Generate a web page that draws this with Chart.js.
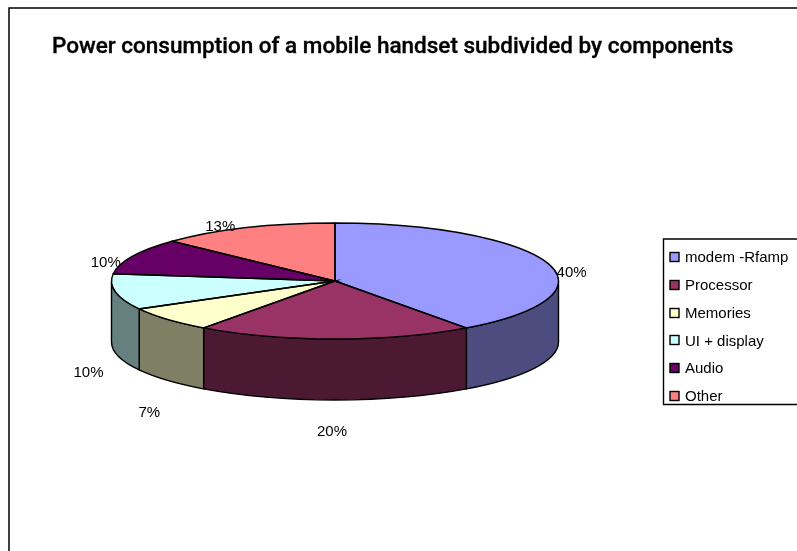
<!DOCTYPE html>
<html>
<head>
<meta charset="utf-8">
<style>
  html, body { margin: 0; padding: 0; background: #fff; overflow: hidden; }
  canvas { display: block; }
</style>
<script src="https://cdn.jsdelivr.net/npm/chart.js@4"></script>
</head>
<body>
<canvas id="chart" width="797" height="551"></canvas>
<script>
const titleText = 'Power consumption of a mobile handset subdivided by components';
const categories = ['modem -Rfamp', 'Processor', 'Memories', 'UI + display', 'Audio', 'Other'];
const shares = [40, 20, 7, 10, 10, 13];
const topColors = ['#9999ff', '#993366', '#ffffcc', '#ccffff', '#660066', '#ff8080'];
const sideColors = ['#4c4c7f', '#4c1933', '#7f7f66', '#667f7f', '#330033', '#7f4040'];

// 3D look: the pie is squashed to an ellipse and gets a wall below it
const centerY = 281;
const squash = 58 / 223.5;
const depth = 61;
// label nudges from the rim point of each slice (auto placement of the original)
const labelNudge = [[24, 10], [-3, 32], [-18, 33], [-27, 20], [-27, 7], [-26, -1]];

const pie3d = {
  id: 'pie3d',
  beforeDatasetsDraw(chart) {
    const ctx = chart.ctx;
    const arcs = chart.getDatasetMeta(0).data;
    const cx = arcs[0].x;
    const rx = arcs[0].outerRadius;
    const ry = rx * squash;

    // frame, cut off on the right and at the bottom
    ctx.save();
    ctx.strokeStyle = '#000';
    ctx.lineWidth = 1.5;
    ctx.beginPath();
    ctx.moveTo(9, 551);
    ctx.lineTo(9, 8);
    ctx.lineTo(797, 8);
    ctx.stroke();

    // front wall, only the part of each slice between 0 and PI
    ctx.lineWidth = 1.4;
    arcs.forEach((arc, i) => {
      const a = Math.max(arc.startAngle, 0);
      const b = Math.min(arc.endAngle, Math.PI);
      if (b <= a) return;
      ctx.beginPath();
      ctx.ellipse(cx, centerY, rx, ry, 0, a, b);
      ctx.ellipse(cx, centerY + depth, rx, ry, 0, b, a, true);
      ctx.closePath();
      ctx.fillStyle = sideColors[i];
      ctx.fill();
      ctx.stroke();
    });
    ctx.restore();

    // the library draws the arcs through this squash
    ctx.save();
    ctx.translate(cx, centerY);
    ctx.scale(1, squash);
    ctx.translate(-cx, -arcs[0].y);
  },
  afterDatasetsDraw(chart) {
    const ctx = chart.ctx;
    ctx.restore();
    const arcs = chart.getDatasetMeta(0).data;
    const cx = arcs[0].x;
    const rx = arcs[0].outerRadius;
    const ry = rx * squash;

    ctx.save();
    ctx.strokeStyle = '#000';
    ctx.lineWidth = 1.4;
    arcs.forEach((arc) => {
      ctx.beginPath();
      ctx.moveTo(cx, centerY);
      ctx.ellipse(cx, centerY, rx, ry, 0, arc.startAngle, arc.endAngle);
      ctx.closePath();
      ctx.stroke();
    });

    // percent labels
    ctx.fillStyle = '#000';
    ctx.font = '15px "Liberation Sans"';
    ctx.textAlign = 'center';
    ctx.textBaseline = 'middle';
    const total = shares.reduce((s, v) => s + v, 0);
    arcs.forEach((arc, i) => {
      const mid = (arc.startAngle + arc.endAngle) / 2;
      const sin = Math.sin(mid);
      const x = cx + rx * Math.cos(mid) + labelNudge[i][0];
      const y = centerY + ry * sin + (sin > 0 ? depth : 0) + labelNudge[i][1];
      ctx.fillText(Math.round(shares[i] / total * 100) + '%', x, y);
    });

    // title, medium weight with a thin stroke sits closest to the original
    ctx.textAlign = 'left';
    ctx.textBaseline = 'alphabetic';
    ctx.font = '500 22.5px Roboto';
    ctx.lineWidth = 0.35;
    ctx.fillText(titleText, 52, 53);
    ctx.strokeText(titleText, 52, 53);

    // legend box runs off the right edge
    ctx.lineWidth = 1.4;
    ctx.beginPath();
    ctx.moveTo(797, 239);
    ctx.lineTo(663.5, 239);
    ctx.lineTo(663.5, 404.5);
    ctx.lineTo(797, 404.5);
    ctx.stroke();

    ctx.lineWidth = 1.4;
    ctx.font = '15px "Liberation Sans"';
    ctx.textBaseline = 'middle';
    categories.forEach((name, i) => {
      const y = 258 + i * 27.8;
      ctx.fillStyle = topColors[i];
      ctx.fillRect(670, Math.round(y) - 5.5, 9, 9);
      ctx.strokeRect(670, Math.round(y) - 5.5, 9, 9);
      ctx.fillStyle = '#000';
      ctx.fillText(name, 685, y);
    });
    ctx.restore();
  }
};

new Chart(document.getElementById('chart'), {
  type: 'pie',
  data: {
    labels: categories,
    datasets: [{
      data: shares,
      backgroundColor: topColors,
      borderWidth: 0
    }]
  },
  options: {
    responsive: false,
    animation: false,
    layout: { padding: { left: 111.5, right: 238.5, top: 50, bottom: 54 } },
    plugins: {
      legend: { display: false },
      title: { display: false },
      tooltip: { enabled: false }
    }
  },
  plugins: [pie3d]
});
</script>
</body>
</html>
